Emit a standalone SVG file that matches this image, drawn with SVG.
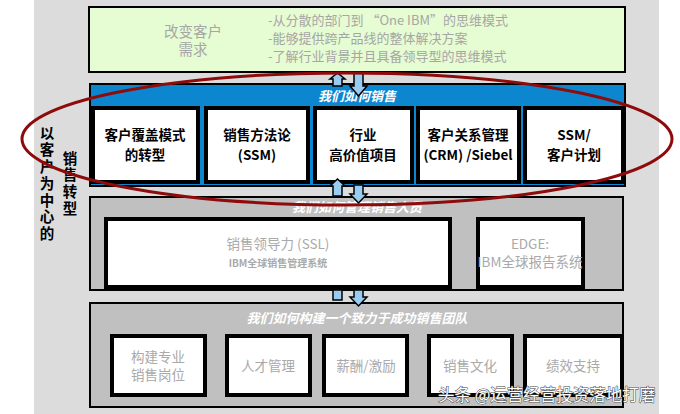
<svg xmlns="http://www.w3.org/2000/svg" width="680" height="414" viewBox="0 0 680 414">
<defs>
<style>
.cjk{font-family:"Noto Sans CJK SC","Liberation Sans",sans-serif}
.grey{fill:#a6a6a6;font-size:13px}
.lbl{fill:#000;font-size:13.5px;font-weight:bold;text-anchor:middle}
.glbl{fill:#a9a9a9;font-size:13.5px;text-anchor:middle}
.title{fill:#fff;font-size:13px;font-weight:bold;font-style:italic;text-anchor:middle}
.wbox{fill:#fff;stroke:#000;stroke-width:4}
.arrow{fill:#99ccf2;stroke:#000;stroke-width:1.5}
.side{fill:#000;font-size:14.5px;font-weight:bold;writing-mode:vertical-rl;letter-spacing:2.2px}
</style>
</defs>
<rect x="0" y="0" width="680" height="414" fill="#fff"/>
<rect x="34" y="0" width="625" height="414" fill="#dcdcdc"/>

<g id="need">
<rect x="89" y="7" width="536" height="65" fill="#e6fcd2" stroke="#000" stroke-width="2"/>
<text class="cjk" x="193" y="37" font-size="14.5" fill="#a6a6a6" text-anchor="middle">改变客户<tspan x="193" dy="18">需求</tspan></text>
<text class="cjk grey" x="268" y="25">-从分散的部门到 “One  IBM”的思维模式</text>
<text class="cjk grey" x="268" y="43">-能够提供跨产品线的整体解决方案</text>
<text class="cjk grey" x="268" y="61">-了解行业背景并且具备领导型的思维模式</text>
</g>

<g id="sell">
<rect x="90" y="84" width="535" height="102" fill="#0b86cf" stroke="#000" stroke-width="2"/>
<text class="cjk title" x="357" y="101">我们如何销售</text>
<g id="s1"><rect class="wbox" x="93" y="108" width="105" height="74"/>
<text class="cjk lbl" x="145" y="140">客户覆盖模式<tspan x="145" dy="20">的转型</tspan></text></g>
<g id="s2"><rect class="wbox" x="206" y="108" width="102" height="74"/>
<text class="cjk lbl" x="257" y="140">销售方法论<tspan x="257" dy="20">(SSM)</tspan></text></g>
<g id="s3"><rect class="wbox" x="315" y="108" width="97" height="74"/>
<text class="cjk lbl" x="363" y="140">行业<tspan x="363" dy="20">高价值项目</tspan></text></g>
<g id="s4"><rect class="wbox" x="418" y="108" width="101" height="74"/>
<text class="cjk lbl" x="468" y="140">客户关系管理<tspan x="468" dy="20">(CRM) /Siebel</tspan></text></g>
<g id="s5"><rect class="wbox" x="525" y="108" width="98" height="74"/>
<text class="cjk lbl" x="574" y="140">SSM/<tspan x="574" dy="20">客户计划</tspan></text></g>
</g>

<g id="manage">
<rect x="90" y="197" width="533" height="93" fill="#c0c0c0" stroke="#000" stroke-width="2"/>
<text class="cjk title" x="357" y="212">我们如何管理销售人员</text>
<g id="m1"><rect class="wbox" x="106" y="219" width="344" height="68"/>
<text class="cjk glbl" x="278" y="249">销售领导力 (SSL)<tspan x="278" dy="18" font-size="10" font-weight="bold">IBM全球销售管理系统</tspan></text></g>
<g id="m2"><rect class="wbox" x="478" y="219" width="105" height="68"/>
<text class="cjk glbl" x="530" y="249">EDGE:<tspan x="530" dy="18">IBM全球报告系统</tspan></text></g>
</g>

<g id="team">
<rect x="90" y="303" width="533" height="104" fill="#c0c0c0" stroke="#000" stroke-width="2"/>
<text class="cjk title" x="357" y="323">我们如何构建一个致力于成功销售团队</text>
<g id="t1"><rect class="wbox" x="112" y="336" width="93" height="59"/>
<text class="cjk glbl" x="158" y="362">构建专业<tspan x="158" dy="18">销售岗位</tspan></text></g>
<g id="t2"><rect class="wbox" x="227" y="336" width="83" height="59"/>
<text class="cjk glbl" x="268" y="371">人才管理</text></g>
<g id="t3"><rect class="wbox" x="324" y="336" width="83" height="59"/>
<text class="cjk glbl" x="366" y="371">薪酬/激励</text></g>
<g id="t4"><rect class="wbox" x="429" y="336" width="83" height="59"/>
<text class="cjk glbl" x="470" y="371">销售文化</text></g>
<g id="t5"><rect class="wbox" x="525" y="336" width="97" height="59"/>
<text class="cjk glbl" x="573" y="371">绩效支持</text></g>
</g>

<g id="connectors">
<polygon class="arrow" points="333,86 333,79 330,79 337.5,73 345,79 342,79 342,86"/>
<polygon class="arrow" points="354,73 363,73 363,86 367,86 358.5,96 350,86 354,86"/>
<polygon class="arrow" points="333,196 333,186 330,186 337.5,179 345,186 342,186 342,196"/>
<polygon class="arrow" points="354,185 363,185 363,194 367,194 358.5,203 350,194 354,194"/>
<polygon class="arrow" points="333,300 333,290 342,290 342,300"/>
<polygon class="arrow" points="354,290 363,290 363,297 367,297 358.5,306 350,297 354,297"/>
</g>

<g id="side">
<text class="cjk side" x="47" y="126">以客户为中心的</text>
<text class="cjk side" x="70" y="151">销售转型</text>
</g>

<ellipse id="focus" cx="347" cy="139" rx="325" ry="66" fill="none" stroke="#8e0b0b" stroke-width="3"/>

<text class="cjk" x="438" y="401" font-size="16.5" fill="#fff" stroke="#444" stroke-width="1" paint-order="stroke">头条 @运营经营投资落地打磨</text>
</svg>
